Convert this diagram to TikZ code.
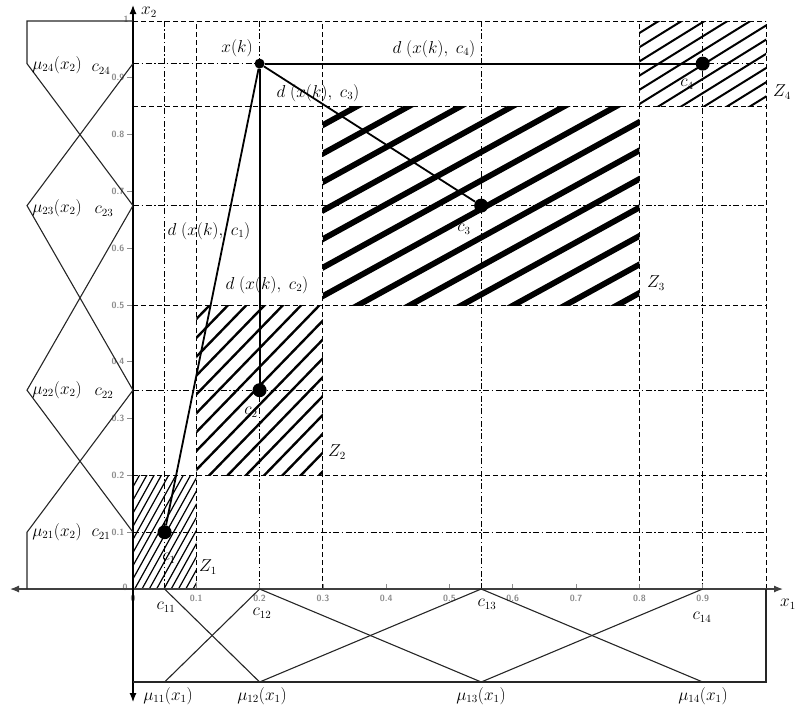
\documentclass[tikz,border=0pt]{standalone}
\usetikzlibrary{arrows.meta}
\begin{document}
\begin{tikzpicture}[x=1pt,y=-1pt,
  gdash/.style={line width=1pt,dash pattern=on 5pt off 3pt},
  gdot/.style={line width=1pt,dash pattern=on 6pt off 2.5pt on 1.5pt off 2.5pt},
  mf/.style={line width=1.1pt,black!85},
  conn/.style={line width=1.8pt},
  dotn/.style={circle,fill=black,inner sep=0pt,minimum size=14pt},
  lbl/.style={font=\fontsize{16}{18}\selectfont,inner sep=0pt},
  tck/.style={font=\fontsize{9}{10}\selectfont\sffamily\bfseries,text=black!45,inner sep=0pt},
  axisl/.style={line width=1.2pt,{Latex[length=9pt,width=7pt]}-{Latex[length=9pt,width=7pt]}}
]
\useasboundingbox (0,0) rectangle (800,716);

% ---------- hatched zones ----------
\begin{scope}
  \clip (133,475.4) rectangle (196.3,589);
  \foreach \i in {-10,...,9} \draw[line width=1.2pt] ({133+\i*7.3},592) -- ++(70,-126);
\end{scope}
\begin{scope}
  \clip (196.3,305) rectangle (322.9,475.4);
  \foreach \i in {-2,...,15} \draw[line width=2.4pt] ({210+\i*18.3},305) ++(30,-31) -- ++(-230,237);
\end{scope}
\begin{scope}
  \clip (322.9,106.2) rectangle (639.4,305);
  \foreach \i in {0,...,12} \draw[line width=5.8pt] (323,{125+\i*28.5}) ++(-10,5.5) -- ++(340,-187);
\end{scope}
\begin{scope}
  \clip (639.4,21) rectangle (766,106.2);
  \foreach \i in {-1,...,10} \draw[line width=2pt] (639.4,{33+\i*14.2}) ++(-5,3.1) -- ++(140,-86.8);
\end{scope}

% ---------- grid ----------
\foreach \x in {196.3,322.9,639.4,766} \draw[gdash] (\x,589) -- (\x,21);
\foreach \x in {164.6,259.6,481.2,702.7} \draw[gdot] (\x,589) -- (\x,21);
\foreach \y in {475.4,305,106.2,21} \draw[gdash] (133,\y) -- (766,\y);
\foreach \y in {532.2,390.2,205.6,63.6} \draw[gdot] (133,\y) -- (766,\y);

% ---------- ticks ----------
\foreach \k in {1,...,9} {
  \draw[black!45,line width=0.8pt] ({133+\k*63.3},589) -- ({133+\k*63.3},584);
  \draw[black!45,line width=0.8pt] (127,{589-\k*56.8}) -- (133,{589-\k*56.8});
}
\node[tck] (tx0) at (133,598) {0};
\foreach \k in {1,...,9} \node[tck] (tx\k) at ({133+\k*63.3},598) {0.\k};
\node[tck] (ty0) at (125,587) {0};
\foreach \k in {1,...,9} \node[tck] (ty\k) at (118,{589-\k*56.8}) {0.\k};
\node[tck] (ty10) at (126,19) {1};

% ---------- axes ----------
\draw[axisl,black!75] (10,589) -- (783,589);
\draw[axisl] (133,702) -- (133,5);
\node[lbl] (lx1) at (788,604) {$x_1$};
\node[lbl] (lx2) at (149,12) {$x_2$};

% ---------- membership functions (x2, left) ----------
\draw[mf] (133,21) -- (27,21) -- (27,63.6) -- (133,205.6);
\draw[mf] (133,63.6) -- (27,205.6) -- (133,390.2);
\draw[mf] (133,205.6) -- (27,390.2) -- (133,532.2);
\draw[mf] (133,390.2) -- (27,532.2) -- (27,589);

% ---------- membership functions (x1, bottom) ----------
\draw[mf] (133,682) -- (766,682);
\draw[mf] (164.6,682) -- (259.6,589);
\draw[mf] (164.6,589) -- (259.6,682) -- (481.2,589);
\draw[mf] (259.6,589) -- (481.2,682) -- (702.7,589);
\draw[mf] (481.2,589) -- (702.7,682);
\draw[line width=2pt,black!85] (702.7,682) -- (766,682) -- (766,589);

% ---------- points ----------
\node[dotn,minimum size=10pt] (xk) at (259.6,63.6) {};
\node[dotn] (c1) at (164.6,532.2) {};
\node[dotn] (c2) at (259.6,390.2) {};
\node[dotn] (c3) at (481.2,205.6) {};
\node[dotn] (c4) at (702.7,63.6) {};
\draw[conn] (xk) -- (c1);
\draw[conn] (xk) -- (c2);
\draw[conn] (xk) -- (c3);
\draw[conn] (xk) -- (c4);

% ---------- labels ----------
\node[lbl] (lxk) at (237,48) {$x(k)$};
\node[lbl] (ld4) at (434,49) {$d\;(x(k),\;c_4)$};
\node[lbl] (ld3) at (318,93) {$d\;(x(k),\;c_3)$};
\node[lbl] (ld1) at (209,231) {$d\;(x(k),\;c_1)$};
\node[lbl] (ld2) at (267,285) {$d\;(x(k),\;c_2)$};
\node[lbl] (lc1) at (169,558) {$c_1$};
\node[lbl] (lc2) at (251,412) {$c_2$};
\node[lbl] (lc3) at (464,229) {$c_3$};
\node[lbl] (lc4) at (687,84) {$c_4$};
\node[lbl] (lz1) at (208,567) {$Z_1$};
\node[lbl] (lz2) at (337,452) {$Z_2$};
\node[lbl] (lz3) at (656,283) {$Z_3$};
\node[lbl] (lz4) at (782,92) {$Z_4$};

\node[lbl] (m24) at (57,65) {$\mu_{24}(x_2)$};
\node[lbl] (m23) at (57,208) {$\mu_{23}(x_2)$};
\node[lbl] (m22) at (57,390) {$\mu_{22}(x_2)$};
\node[lbl] (m21) at (57,532) {$\mu_{21}(x_2)$};
\node[lbl] (k24) at (101,69) {$c_{24}$};
\node[lbl] (k23) at (104,211) {$c_{23}$};
\node[lbl] (k22) at (104,393) {$c_{22}$};
\node[lbl] (k21) at (101,534) {$c_{21}$};

\node[lbl] (k11) at (166,607) {$c_{11}$};
\node[lbl] (k12) at (262,613) {$c_{12}$};
\node[lbl] (k13) at (487,604) {$c_{13}$};
\node[lbl] (k14) at (702,617) {$c_{14}$};
\node[lbl] (m11) at (168,696) {$\mu_{11}(x_1)$};
\node[lbl] (m12) at (262,696) {$\mu_{12}(x_1)$};
\node[lbl] (m13) at (481,696) {$\mu_{13}(x_1)$};
\node[lbl] (m14) at (703,696) {$\mu_{14}(x_1)$};
\end{tikzpicture}
\end{document}
